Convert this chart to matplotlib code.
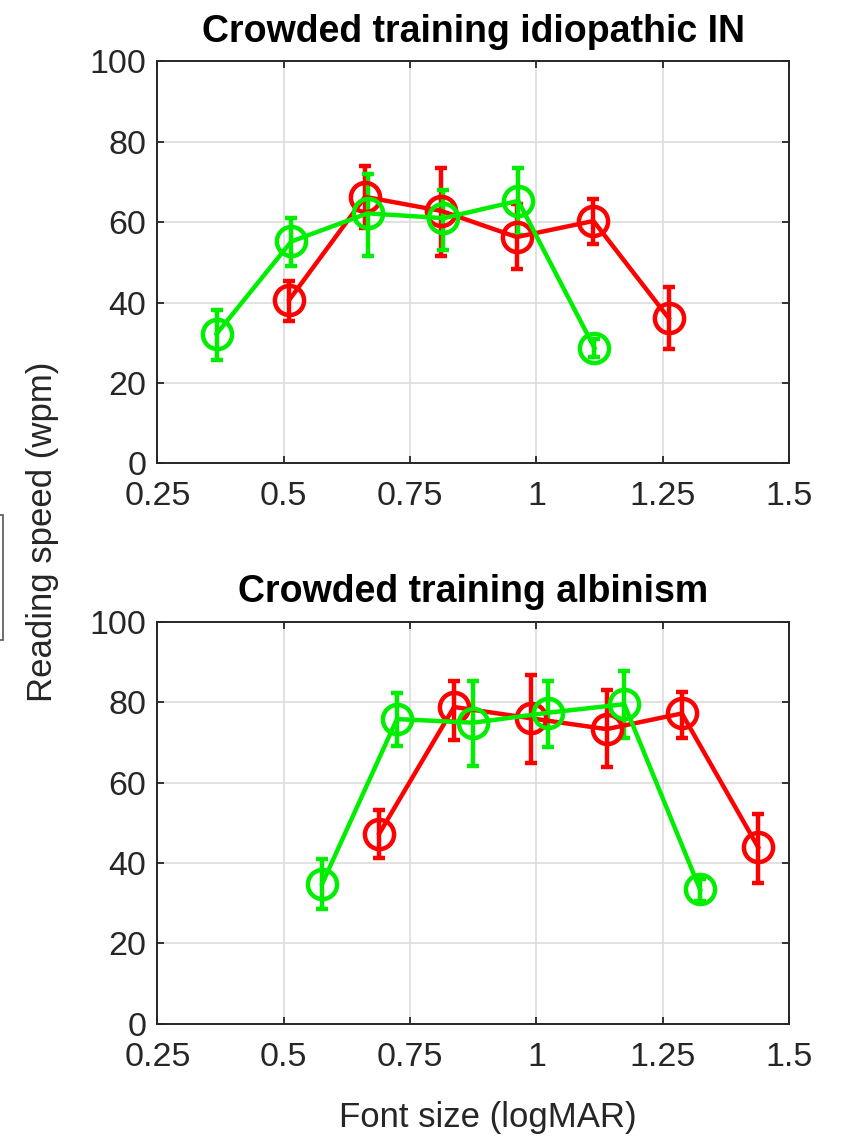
import matplotlib
matplotlib.use("Agg")
import matplotlib.pyplot as plt
from matplotlib.patches import Rectangle

plt.rcParams["font.family"] = ["Liberation Sans", "DejaVu Sans"]

RED = "#ff0000"
GREEN = "#00ee00"

# ---------------------------------------------------------------------------
# Data (x = font size logMAR, y = reading speed wpm)
# ---------------------------------------------------------------------------
red_x_top = [0.511, 0.661, 0.812, 0.961, 1.113, 1.262]
red_y_top = [40.7, 66.3, 62.8, 56.3, 60.3, 36.1]
red_lo_top = [35.3, 58.5, 51.7, 48.3, 54.5, 28.5]
red_hi_top = [45.4, 74.0, 73.4, 64.5, 65.8, 43.8]

green_x_top = [0.367, 0.515, 0.666, 0.816, 0.964, 1.115]
green_y_top = [32.2, 55.2, 62.2, 61.0, 65.3, 28.7]
green_lo_top = [25.8, 49.0, 51.6, 53.0, 56.8, 26.5]
green_hi_top = [38.2, 61.0, 72.1, 68.0, 73.4, 31.0]

red_x_bot = [0.689, 0.837, 0.989, 1.139, 1.288, 1.439]
red_y_bot = [47.3, 78.8, 76.0, 73.3, 77.2, 43.9]
red_lo_bot = [41.2, 70.6, 64.9, 63.9, 71.2, 34.9]
red_hi_bot = [53.2, 85.3, 86.7, 83.0, 82.6, 52.3]

green_x_bot = [0.576, 0.724, 0.875, 1.024, 1.174, 1.324]
green_y_bot = [34.8, 75.8, 74.9, 77.4, 79.5, 33.4]
green_lo_bot = [28.6, 69.2, 64.1, 68.8, 71.2, 30.5]
green_hi_bot = [40.9, 82.2, 85.3, 85.3, 87.8, 36.0]

titles = ["Crowded training idiopathic IN", "Crowded training albinism"]
x_ticks = [0.25, 0.5, 0.75, 1, 1.25, 1.5]
x_ticklabels = ["0.25", "0.5", "0.75", "1", "1.25", "1.5"]
y_ticks = [0, 20, 40, 60, 80, 100]


def draw_series(ax, x, y, lo, hi, color):
    yerr = [[m - l for m, l in zip(y, lo)], [h - m for m, h in zip(y, hi)]]
    ax.errorbar(x, y, yerr=yerr, color=color, lw=3.2, elinewidth=3.2,
                capsize=4, capthick=3.2, marker="o", markersize=21,
                markerfacecolor="none", markeredgecolor=color,
                markeredgewidth=3.2)


def style_axes(ax, title):
    ax.set_xlim(0.25, 1.5)
    ax.set_ylim(0, 100)
    ax.set_xticks(x_ticks)
    ax.set_xticklabels(x_ticklabels)
    ax.set_yticks(y_ticks)
    ax.grid(True, color="#dcdcdc", lw=1.2)
    ax.set_axisbelow(True)
    ax.tick_params(direction="in", length=5, width=1.3, top=True,
                   right=True, labelsize=24.5, colors="#262626")
    ax.tick_params(axis="x", pad=13)
    ax.tick_params(axis="y", pad=8)
    for sp in ax.spines.values():
        sp.set_color("#262626")
        sp.set_linewidth(1.4)
    ax.set_title(title, fontsize=27, fontweight="bold", pad=14)


fig = plt.figure(figsize=(8.43, 11.36), dpi=100)
ax_top = fig.add_axes([0.1868, 0.5922, 0.7491, 0.3537])
ax_bot = fig.add_axes([0.1868, 0.0989, 0.7491, 0.3537])

draw_series(ax_top, red_x_top, red_y_top, red_lo_top, red_hi_top, RED)
draw_series(ax_top, green_x_top, green_y_top, green_lo_top, green_hi_top, GREEN)
style_axes(ax_top, titles[0])

draw_series(ax_bot, red_x_bot, red_y_bot, red_lo_bot, red_hi_bot, RED)
draw_series(ax_bot, green_x_bot, green_y_bot, green_lo_bot, green_hi_bot, GREEN)
style_axes(ax_bot, titles[1])

fig.text(0.05, 0.532, "Reading speed (wpm)", rotation=90, ha="center",
         va="center", fontsize=25, color="#262626")
fig.text(0.579, 0.016, "Font size (logMAR)", ha="center", va="center",
         fontsize=25, color="#262626")

# small leftover frame at the left edge of the reference
fig.add_artist(Rectangle((-0.02, 1 - 640 / 1136), 0.024, 125 / 1136,
                         transform=fig.transFigure, fill=False,
                         edgecolor="#555555", lw=1.2))

fig.savefig("out.png", dpi=100)
